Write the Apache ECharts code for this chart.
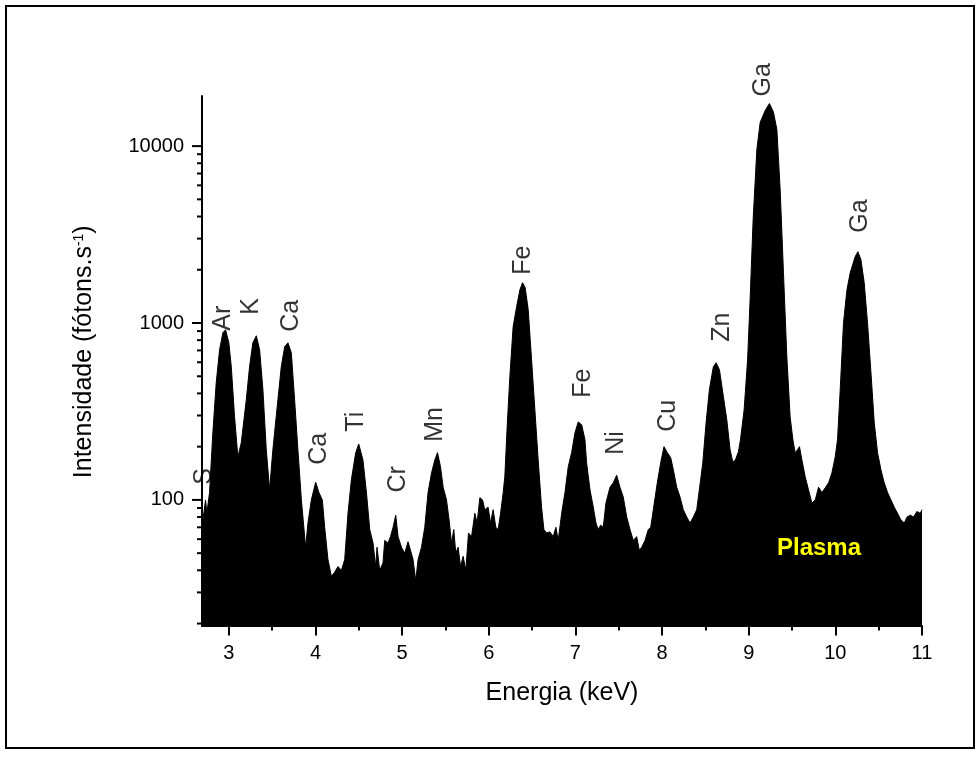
<!DOCTYPE html>
<html>
<head>
<meta charset="utf-8">
<title>Espectro - Plasma</title>
<script src="https://cdn.jsdelivr.net/npm/echarts@6/dist/echarts.min.js"></script>
<style>
  html, body { margin: 0; padding: 0; background: #fff; }
  #chart { width: 980px; height: 758px; }
</style>
</head>
<body>
<div id="chart"></div>
<script>
const energy = [
  2.69, 2.731, 2.746, 2.777, 2.815, 2.854, 2.893, 2.931, 2.962, 3.000,
  3.028, 3.066, 3.104, 3.143, 3.201, 3.239, 3.277, 3.317, 3.355, 3.393,
  3.432, 3.470, 3.508, 3.566, 3.605, 3.644, 3.682, 3.721, 3.759, 3.797,
  3.837, 3.886, 3.913, 3.952, 4.002, 4.040, 4.079, 4.106, 4.144, 4.183,
  4.221, 4.259, 4.299, 4.337, 4.375, 4.414, 4.464, 4.499, 4.548, 4.588,
  4.626, 4.664, 4.695, 4.710, 4.741, 4.779, 4.799, 4.837, 4.865, 4.895,
  4.926, 4.953, 4.992, 5.030, 5.068, 5.096, 5.126, 5.157, 5.184, 5.223,
  5.261, 5.299, 5.339, 5.377, 5.408, 5.443, 5.473, 5.512, 5.542, 5.570,
  5.596, 5.619, 5.646, 5.674, 5.704, 5.735, 5.766, 5.801, 5.839, 5.865,
  5.897, 5.928, 5.954, 5.992, 6.020, 6.050, 6.081, 6.108, 6.136, 6.166,
  6.185, 6.212, 6.243, 6.281, 6.321, 6.359, 6.390, 6.420, 6.455, 6.494,
  6.532, 6.570, 6.609, 6.636, 6.667, 6.705, 6.743, 6.775, 6.801, 6.841,
  6.879, 6.917, 6.956, 6.994, 7.032, 7.072, 7.110, 7.129, 7.168, 7.206,
  7.237, 7.263, 7.291, 7.321, 7.352, 7.399, 7.437, 7.476, 7.514, 7.552,
  7.592, 7.630, 7.668, 7.707, 7.737, 7.765, 7.803, 7.841, 7.869, 7.899,
  7.945, 7.984, 8.022, 8.061, 8.100, 8.130, 8.169, 8.207, 8.245, 8.285,
  8.323, 8.361, 8.400, 8.430, 8.470, 8.508, 8.546, 8.592, 8.624, 8.662,
  8.708, 8.747, 8.785, 8.816, 8.846, 8.881, 8.905, 8.947, 8.987, 9.016,
  9.051, 9.094, 9.132, 9.190, 9.239, 9.285, 9.325, 9.363, 9.401, 9.440,
  9.478, 9.510, 9.536, 9.563, 9.586, 9.614, 9.652, 9.690, 9.729, 9.768,
  9.806, 9.845, 9.883, 9.922, 9.960, 9.998, 10.025, 10.056, 10.094, 10.134,
  10.172, 10.229, 10.260, 10.295, 10.333, 10.371, 10.411, 10.449, 10.487, 10.526,
  10.564, 10.603, 10.642, 10.680, 10.718, 10.757, 10.795, 10.827, 10.865, 10.903,
  10.941, 10.980, 11.000
];
const intensity = [
  70, 100, 84, 110, 239, 459, 706, 881, 916, 773,
  566, 295, 175, 210, 368, 566, 773, 847, 706, 420,
  192, 114, 192, 368, 566, 734, 773, 679, 368, 192,
  100, 54, 74, 100, 126, 110, 100, 70, 46, 37,
  39, 42, 40, 46, 84, 130, 185, 207, 168, 110,
  68, 57, 42, 54, 40, 44, 59, 57, 62, 70,
  82, 62, 54, 50, 58, 52, 46, 35, 46, 54,
  70, 110, 142, 168, 185, 154, 118, 100, 77, 57,
  68, 50, 54, 42, 48, 40, 65, 62, 84, 74,
  103, 100, 88, 91, 74, 88, 70, 68, 84, 110,
  135, 259, 497, 953, 1236, 1542, 1690, 1585, 1189, 619,
  323, 168, 91, 68, 65, 66, 62, 70, 59, 84,
  110, 154, 185, 239, 276, 266, 219, 162, 114, 91,
  74, 68, 72, 70, 96, 118, 125, 138, 118, 104,
  80, 68, 59, 62, 52, 54, 59, 68, 70, 88,
  125, 162, 200, 185, 173, 148, 118, 104, 88, 80,
  74, 80, 88, 114, 162, 273, 420, 566, 596, 545,
  383, 284, 192, 164, 168, 187, 219, 323, 619, 1355,
  3842, 9570, 13600, 15900, 17420, 15600, 12410, 5680, 1928, 644,
  295, 219, 185, 192, 200, 168, 135, 114, 96, 100,
  118, 110, 117, 125, 142, 175, 219, 420, 1004, 1542,
  1927, 2373, 2532, 2281, 1690, 1004, 524, 273, 185, 148,
  125, 110, 100, 91, 84, 77, 74, 80, 82, 80,
  86, 84, 88
];

// identificacao dos picos (energia do rotulo, altura onde o rotulo comeca)
const peakNames = ['S', 'Ar', 'K', 'Ca', 'Ca', 'Ti', 'Cr', 'Mn', 'Fe', 'Fe', 'Ni', 'Cu', 'Zn', 'Ga', 'Ga'];
const peakEnergy = [2.715, 2.939, 3.262, 3.713, 4.036, 4.464, 4.949, 5.377, 6.394, 7.087, 7.468, 8.068, 8.692, 9.170, 10.287];
const peakLabelHeight = [122, 904, 1114, 893, 158, 243, 110, 213, 1875, 378, 180, 243, 783, 19100, 3243];

// marcas dos eixos
const xMajorTicks = [3, 4, 5, 6, 7, 8, 9, 10, 11];
const xMinorTicks = [3.5, 4.5, 5.5, 6.5, 7.5, 8.5, 9.5, 10.5];
const yMajorTicks = [100, 1000, 10000];
const yMinorTicks = [20, 30, 40, 50, 60, 70, 80, 90,
  200, 300, 400, 500, 600, 700, 800, 900,
  2000, 3000, 4000, 5000, 6000, 7000, 8000, 9000];

const X_MIN = 2.69;
const X_MAX = 11;
const Y_MIN = 19.5;
const Y_MAX = 19200;

const fontFamily = '"Liberation Sans", Arial, sans-serif';

const chart = echarts.init(document.getElementById('chart'));

// ticks do eixo log desenhados pela escala do proprio eixo
function yTickSeries(values, len) {
  return {
    type: 'custom',
    silent: true,
    z: 5,
    data: values.map(v => [X_MIN, v]),
    encode: { x: 0, y: 1 },
    renderItem: function (params, api) {
      const p = api.coord([api.value(0), api.value(1)]);
      return {
        type: 'line',
        shape: { x1: p[0] - len, y1: p[1], x2: p[0], y2: p[1] },
        style: { stroke: '#000', lineWidth: 2 }
      };
    }
  };
}

const option = {
  backgroundColor: '#fff',
  animation: false,
  grid: { left: 202, right: 58, top: 96, bottom: 132.5 },
  xAxis: [
    {
      type: 'value',
      min: X_MIN,
      max: X_MAX,
      position: 'bottom',
      name: 'Energia (keV)',
      nameLocation: 'middle',
      nameGap: 55,
      nameTextStyle: { fontSize: 25, color: '#000', fontFamily: fontFamily },
      axisLine: { onZero: false, lineStyle: { color: '#000', width: 2 } },
      axisTick: { customValues: xMajorTicks, length: 10, lineStyle: { color: '#000', width: 2 } },
      axisLabel: { customValues: xMajorTicks, margin: 18, fontSize: 20, color: '#000', fontFamily: fontFamily },
      splitLine: { show: false }
    },
    {
      type: 'value',
      min: X_MIN,
      max: X_MAX,
      position: 'bottom',
      axisLine: { show: false },
      axisTick: { customValues: xMinorTicks, length: 5, lineStyle: { color: '#000', width: 2 } },
      axisLabel: { show: false },
      splitLine: { show: false }
    }
  ],
  yAxis: {
    type: 'log',
    min: Y_MIN,
    max: Y_MAX,
    name: 'Intensidade (fótons.s{sup|-1})',
    nameLocation: 'middle',
    nameGap: 105,
    nameTextStyle: {
      fontSize: 25,
      color: '#000',
      fontFamily: fontFamily,
      padding: [0, 0, 0, 18],
      rich: {
        sup: { fontSize: 14, color: '#000', fontFamily: fontFamily, verticalAlign: 'top' }
      }
    },
    axisLine: { lineStyle: { color: '#000', width: 2 } },
    axisTick: { show: false },
    axisLabel: {
      margin: 18,
      fontSize: 20,
      color: '#000',
      fontFamily: fontFamily,
      formatter: function (value) {
        const v = Math.round(value);
        return yMajorTicks.indexOf(v) >= 0 ? String(v) : '';
      }
    },
    splitLine: { show: false }
  },
  series: [
    {
      name: 'Plasma',
      type: 'line',
      data: energy.map((e, i) => [e, intensity[i]]),
      symbol: 'none',
      smooth: false,
      lineStyle: { color: '#000', width: 1 },
      areaStyle: { color: '#000', opacity: 1, origin: 'start' },
      z: 2
    },
    yTickSeries(yMajorTicks, 10),
    yTickSeries(yMinorTicks, 5),
    {
      type: 'scatter',
      silent: true,
      symbolSize: 0,
      z: 6,
      data: peakNames.map((n, i) => ({ name: n, value: [peakEnergy[i], peakLabelHeight[i]] })),
      label: {
        show: true,
        formatter: '{b}',
        position: [0, 0],
        rotate: 90,
        align: 'left',
        verticalAlign: 'middle',
        fontSize: 25,
        color: '#000',
        fontFamily: fontFamily
      }
    }
  ],
  graphic: [
    {
      type: 'rect',
      shape: { x: 6, y: 6, width: 968, height: 742 },
      style: { fill: 'none', stroke: '#000', lineWidth: 2 },
      silent: true
    },
    {
      type: 'text',
      x: 819,
      y: 548,
      style: {
        text: 'Plasma',
        fill: '#ffff00',
        font: 'bold 24px ' + fontFamily,
        textAlign: 'center',
        textVerticalAlign: 'middle'
      },
      z: 10,
      silent: true
    }
  ]
};

chart.setOption(option);
</script>
</body>
</html>
